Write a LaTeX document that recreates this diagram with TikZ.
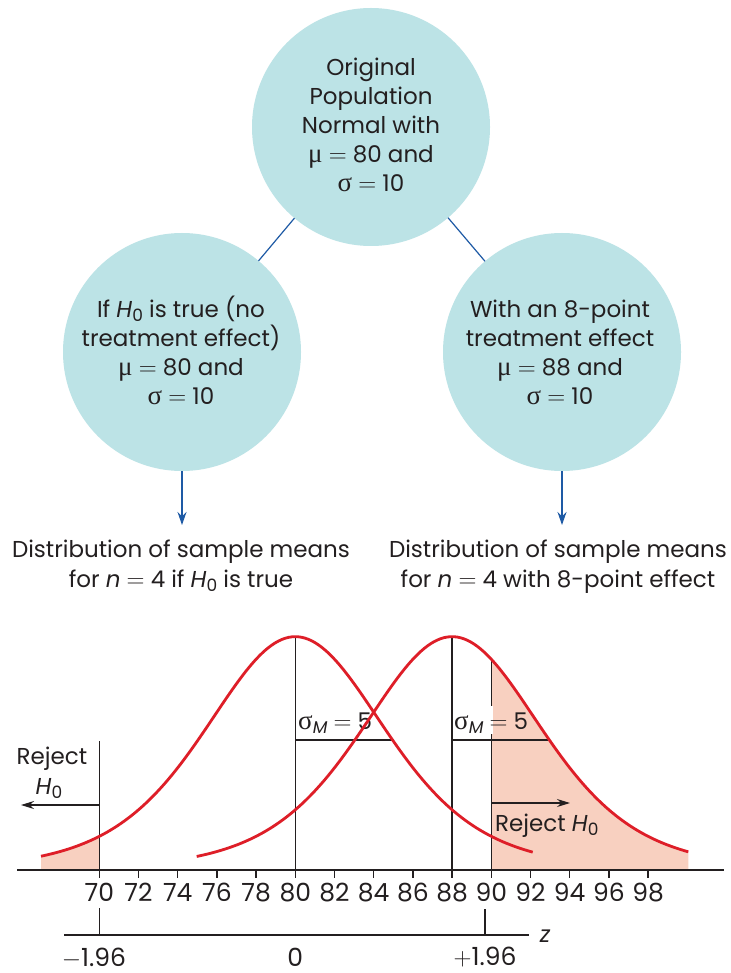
\documentclass[tikz,border=0pt]{standalone}
\usepackage{fontspec}
\setmainfont{Poppins}
\newfontfamily\grk{Liberation Serif}
\usetikzlibrary{arrows.meta}
\definecolor{bubble}{RGB}{188,227,230}
\definecolor{connblue}{RGB}{30,90,165}
\definecolor{ink}{RGB}{35,31,32}
\definecolor{curvered}{RGB}{222,30,40}
\definecolor{rejfill}{RGB}{248,208,192}
\newcommand{\Hnull}{\textit{H}\raisebox{-0.35ex}{\fontsize{17}{17}\selectfont 0}}
\newcommand{\sgM}{{\grk\fontsize{27}{27}\selectfont σ}\raisebox{-0.35ex}{\fontsize{17}{17}\selectfont\itshape M}}
\newcommand{\mumu}{{\grk\fontsize{27}{27}\selectfont μ}}
\newcommand{\sgsg}{{\grk\fontsize{27}{27}\selectfont σ}}
\newcommand{\eqs}{\ $=$\ }
\begin{document}
\begin{tikzpicture}[x=1pt,y=-1pt,
  declare function={ft(\x,\m)=233.3*exp(-3.5*ln(1+((\x-\m)/228.05)*((\x-\m)/228.05)));},
  bubblenode/.style={circle, fill=bubble, minimum size=238pt, inner sep=0pt, outer sep=0pt},
  txt/.style={anchor=base, text=ink, inner sep=0pt, font=\fontsize{23}{27}\selectfont},
  ticklab/.style={anchor=base, text=ink, inner sep=0pt, text depth=0pt, font=\fontsize{25}{27}\selectfont},
  connline/.style={draw=connblue, line width=1.2pt},
  blk/.style={draw=ink, line width=1.3pt},
  crv/.style={draw=curvered, line width=2.8pt},
]
\useasboundingbox (0,0) rectangle (730,973);
\fill[white] (0,0) rectangle (730,973);

% circles
\node[bubblenode] (top) at (371,127) {};
\node[bubblenode] (L) at (182,352) {};
\node[bubblenode] (R) at (562,352) {};
\draw[connline] (top) -- (L);
\draw[connline] (top) -- (R);

\node[txt] (t1) at (371,76) {Original};
\node[txt] (t2) at (371,105) {Population};
\node[txt] (t3) at (371,134) {Normal with};
\node[txt] (t4) at (371,163) {\mumu\eqs 80 and};
\node[txt] (t5) at (371,192) {\sgsg\eqs 10};

\node[txt] (l1) at (181,317) {If \Hnull\ is true (no};
\node[txt] (l2) at (181,346) {treatment effect)};
\node[txt] (l3) at (181,375) {\mumu\eqs 80 and};
\node[txt] (l4) at (181,404) {\sgsg\eqs 10};

\node[txt] (r1) at (560,317) {With an 8-point};
\node[txt] (r2) at (560,346) {treatment effect};
\node[txt] (r3) at (560,375) {\mumu\eqs 88 and};
\node[txt] (r4) at (560,404) {\sgsg\eqs 10};

\coordinate (la) at (182,525);
\coordinate (ra) at (562,525);
\draw[connline,-{Stealth[length=13pt,width=9pt]}] (L) -- (la);
\draw[connline,-{Stealth[length=13pt,width=9pt]}] (R) -- (ra);

\node[txt] (b1) at (181,557) {Distribution of sample means};
\node[txt] (b2) at (181,587) {for \textit{n} $=$ 4 if \Hnull\ is true};
\node[txt] (b3) at (558,557) {Distribution of sample means};
\node[txt] (b4) at (558,587) {for \textit{n} $=$ 4 with 8-point effect};

% shaded rejection regions
\fill[rejfill] (41,870) -- plot[domain=41:99.3,samples=20] (\x,{870-ft(\x,295.3)}) -- (99.3,870) -- cycle;
\fill[rejfill] (491.3,870) -- plot[domain=491.3:688.3,samples=80] (\x,{870-ft(\x,452.1)}) -- (688.3,870) -- cycle;

% axis
\draw[blk] (17,870) -- (724,870);
\foreach \v in {70,72,...,98}{
  \pgfmathsetmacro{\px}{295.3+(\v-80)*19.6}
  \draw[blk] (\px,870) -- (\px,878);
  \node[ticklab] (tk\v) at (\px,901.5) {\v};
}

% vertical lines
\draw[blk] (99.3,870) -- (99.3,741);
\draw[blk] (295.3,870) -- (295.3,636.7);
\draw[blk] (452.1,870) -- (452.1,636.7);
\draw[blk] (491.3,870) -- (491.3,{870-ft(491.3,452.1)});

% sigma lines
\draw[blk] (295.3,740) -- (393.3,740);
\draw[blk] (452.1,740) -- (550.1,740);

\node[txt, anchor=base west] (sl) at (298,729) {\sgM\eqs 5};
\fill[white] (454,706) rectangle (492.6,734);
\node[txt, anchor=base west] (sr) at (454,729) {\sgM\eqs 5};

% reject arrows
\coordinate (rl0) at (99.3,805);
\coordinate (rl1) at (21,805);
\draw[blk,-{Stealth[length=13pt,width=8pt]}] (rl0) -- (rl1);
\node[txt] (rej1) at (52,764) {Reject};
\node[txt] (rej2) at (49,794) {\Hnull};

\coordinate (rr0) at (491.3,803);
\coordinate (rr1) at (570,803);
\draw[blk,-{Stealth[length=13pt,width=8pt]}] (rr0) -- (rr1);
\node[txt, anchor=base west] (rej3) at (495,831) {Reject \Hnull};

% curves
\draw[crv] plot[domain=41:532.7,samples=150,smooth] (\x,{870-ft(\x,295.3)});
\draw[crv] plot[domain=196.7:688.3,samples=150,smooth] (\x,{870-ft(\x,452.1)});

% z axis
\draw[blk] (64,935) -- (529,935);
\draw[blk] (99.3,908) -- (99.3,935);
\draw[blk] (485,909) -- (485,935);
\node[txt, font=\fontsize{23}{27}\selectfont\itshape] (zl) at (545,942) {z};
\node[ticklab] (z1) at (94,966) {$-$1.96};
\node[ticklab] (z2) at (295.3,966) {0};
\node[ticklab] (z3) at (485,965) {$+$1.96};
\end{tikzpicture}
\end{document}
